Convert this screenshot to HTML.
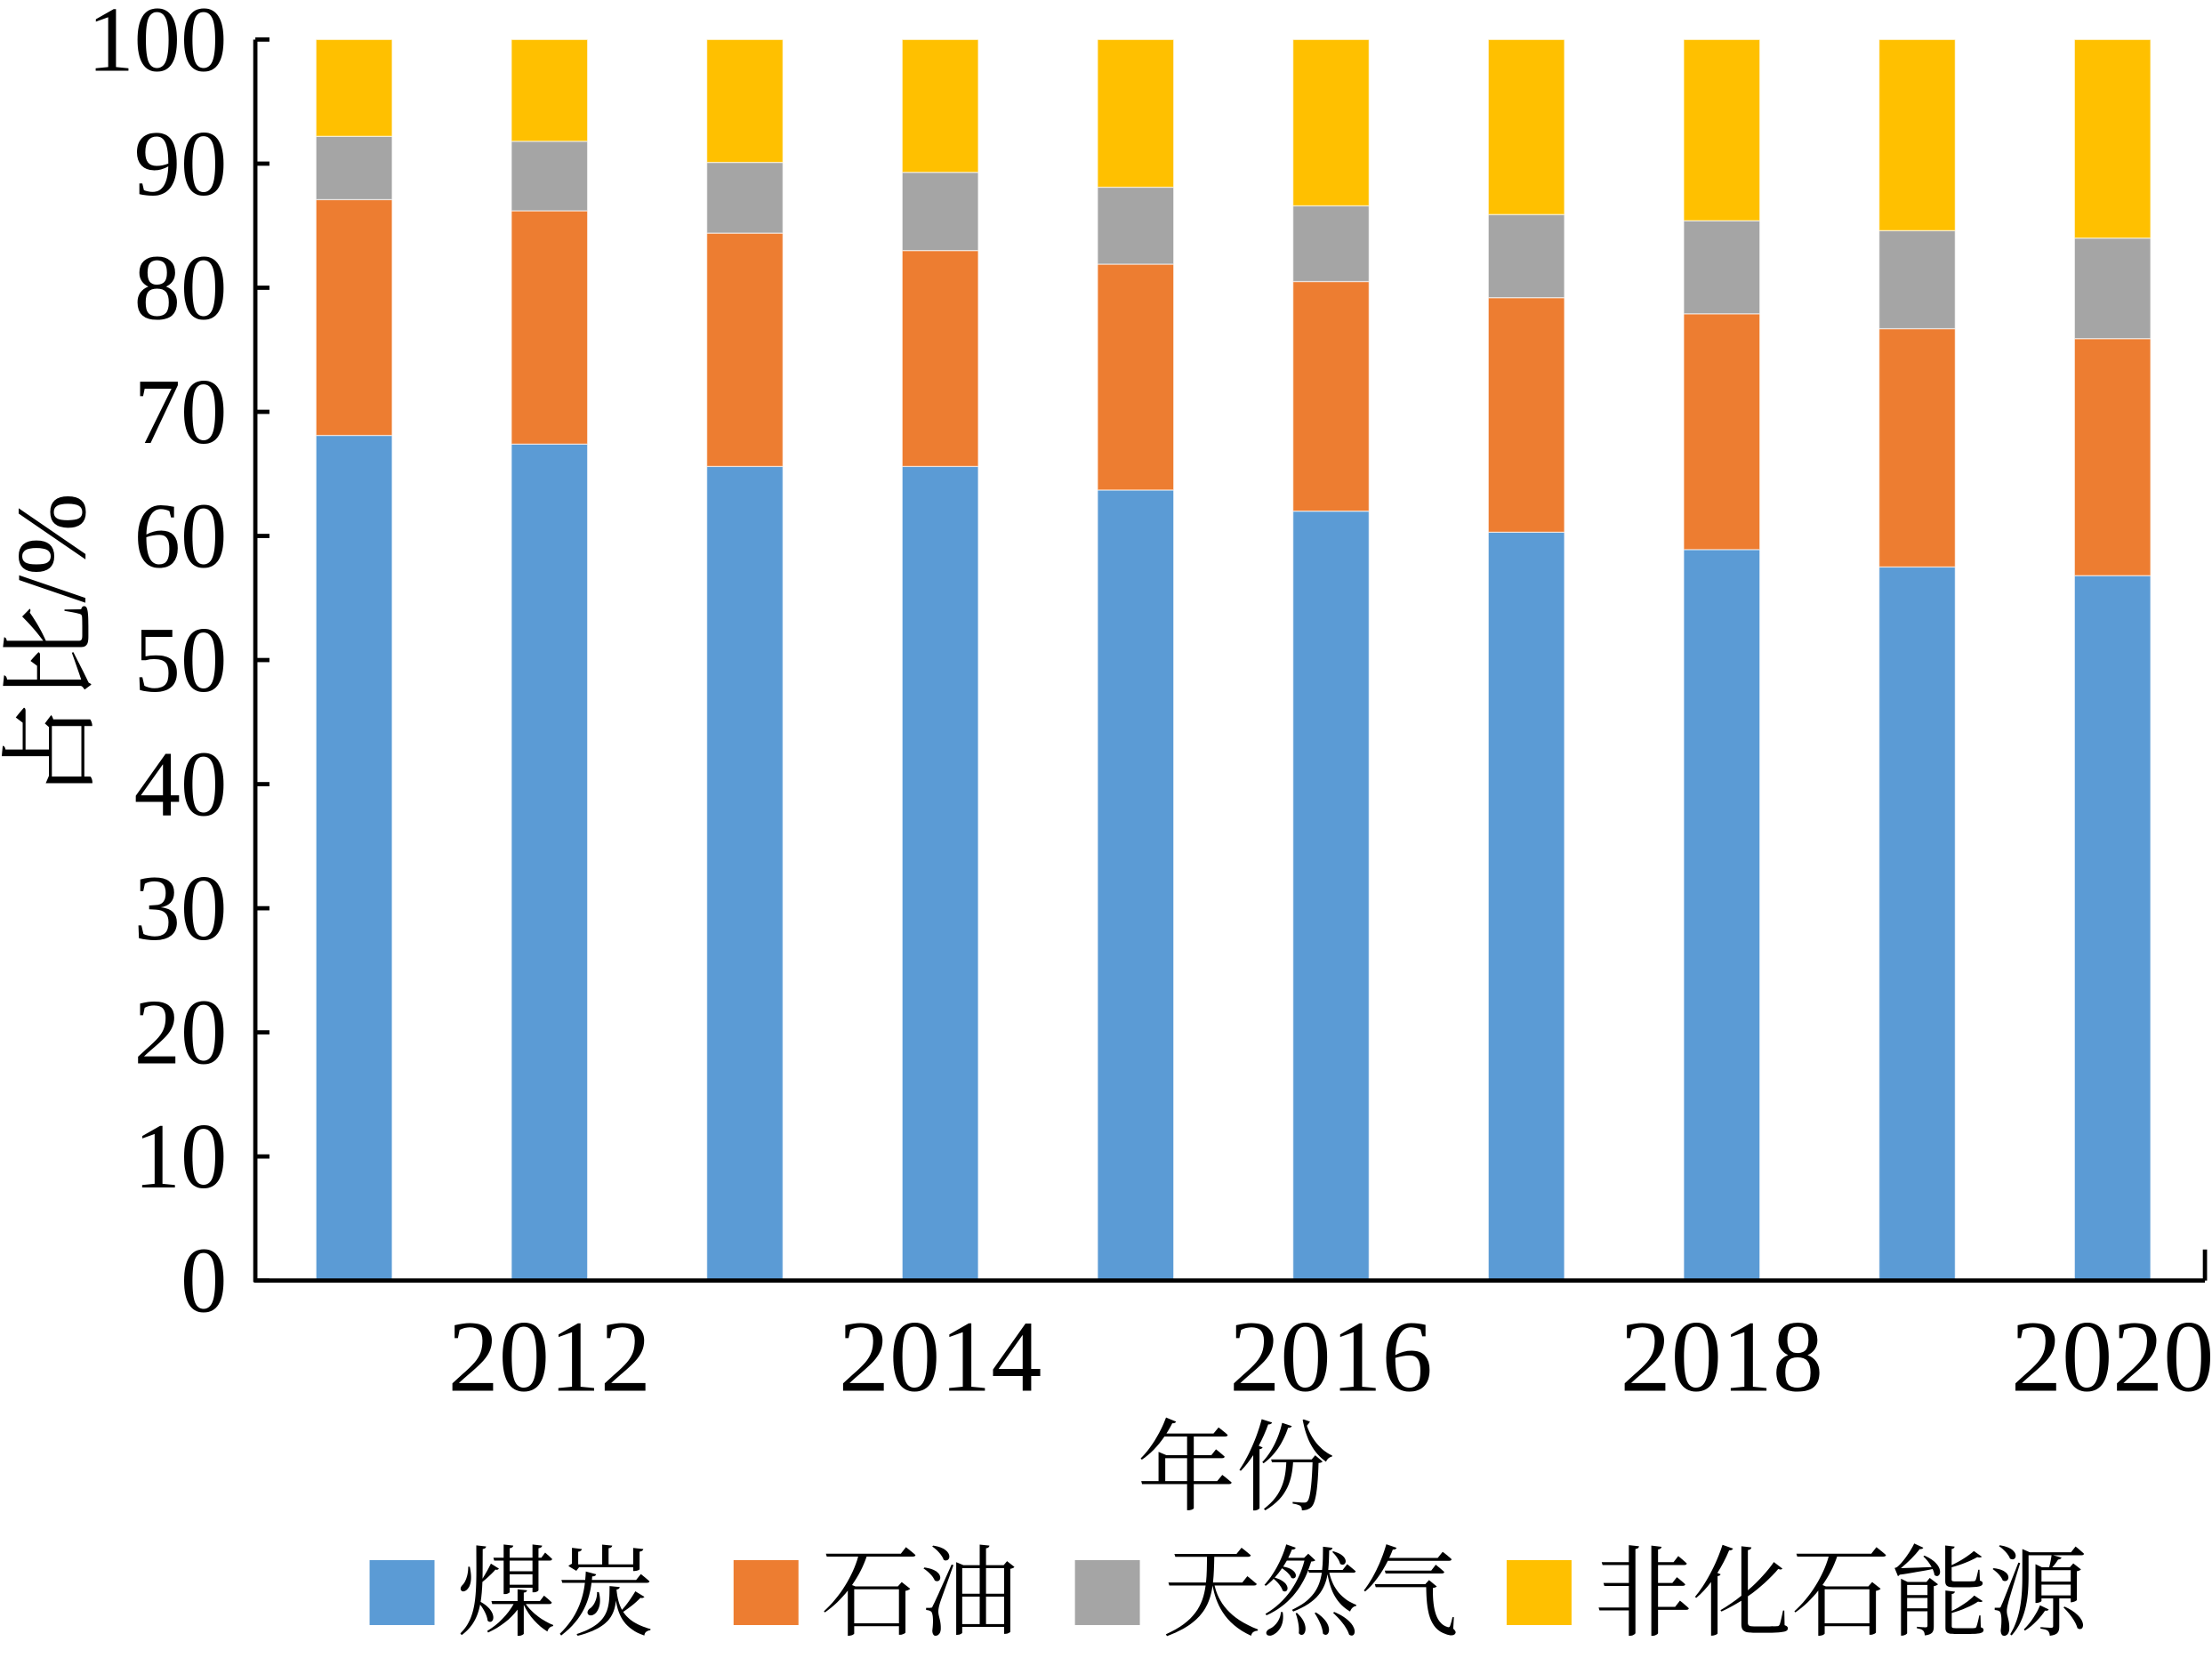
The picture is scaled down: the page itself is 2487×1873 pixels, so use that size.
<!DOCTYPE html>
<html><head><meta charset="utf-8"><style>
html,body{margin:0;padding:0;background:#fff;}
svg{display:block;}
text{font-family:"Liberation Serif","Noto Serif CJK SC",serif;fill:#000;}
</style></head><body>
<svg id="chart" width="2487" height="1873" viewBox="0 0 1568 1180" preserveAspectRatio="none" xmlns="http://www.w3.org/2000/svg">
<g id="bars"></g>
<g id="axes"></g>
<g id="legend"></g>
</svg>
<script>
const years = [2011,2012,2013,2014,2015,2016,2017,2018,2019,2020];
const coal = [68.1,67.4,65.6,65.6,63.7,62.0,60.3,58.9,57.5,56.8];
const oil = [19.0,18.8,18.8,17.4,18.2,18.5,18.9,19.0,19.2,19.1];
const gas = [5.1,5.6,5.7,6.3,6.2,6.1,6.7,7.5,7.9,8.1];
const nonFossil = [7.8,8.2,9.9,10.7,11.9,13.4,14.1,14.6,15.4,16.0];
const yTicks = [0,10,20,30,40,50,60,70,80,90,100];
const xTickYears = [2012,2014,2016,2018,2020];
const seriesNames = ['煤炭','石油','天然气','非化石能源'];

const NS='http://www.w3.org/2000/svg';
const colors=['#5B9BD5','#ED7D31','#A5A5A5','#FFC000'];
const series=[coal,oil,gas,nonFossil];
const x0=181,x1=1563,yTop=28,yBot=907;
function yScale(v){return yBot-(v/100)*(yBot-yTop);}
function xScale(yr){return 251+(yr-years[0])*138.5;}
const bw=54;
function mk(tag,attrs,parent){const e=document.createElementNS(NS,tag);for(const k in attrs)e.setAttribute(k,attrs[k]);parent.appendChild(e);return e;}
const gb=document.getElementById('bars');
years.forEach((yr,i)=>{
  let cum=0;
  series.forEach((s,j)=>{
    const v=s[i];
    const r=mk('rect',{x:xScale(yr)-bw/2,y:yScale(cum+v),width:bw,height:yScale(cum)-yScale(cum+v),fill:colors[j],stroke:'#fff','stroke-width':0.8,'stroke-opacity':0.6},gb);
    
    
    cum+=v;
  });
});
const ga=document.getElementById('axes');
let l=mk('line',{x1:x0,y1:yTop,x2:x0,y2:yBot+1,stroke:'#000','stroke-width':3},ga);


l=mk('line',{x1:x0-1,y1:yBot,x2:x1,y2:yBot,stroke:'#000','stroke-width':3},ga);


mk('line',{x1:x1,y1:yBot,x2:x1,y2:yBot-22,stroke:'#000','stroke-width':3},ga);
yTicks.forEach(v=>{
  mk('line',{x1:x0,y1:yScale(v),x2:x0+10,y2:yScale(v),stroke:'#000','stroke-width':3},ga);
  const t=mk('text',{x:161,y:yScale(v)+22,'text-anchor':'end','font-size':66},ga);
  t.textContent=v;
  
  
});
xTickYears.forEach(yr=>{
  const t=mk('text',{x:xScale(yr),y:985,'text-anchor':'middle','font-size':72},ga);
  t.textContent=yr;
  
  
});
let t=mk('text',{x:0,y:0,'text-anchor':'middle','font-size':70,transform:'translate(60,458) rotate(-90)'},ga);
t.textContent='占比/%';


t=mk('text',{x:876,y:1064,'text-anchor':'middle','font-size':70},ga);
t.textContent='年份';


const gl=document.getElementById('legend');
const lx=[262,520,762,1068];
seriesNames.forEach((n,j)=>{
  const r=mk('rect',{x:lx[j],y:1105,width:46,height:46,fill:colors[j]},gl);
  
  
  const tt=mk('text',{x:lx[j]+62,y:1153,'font-size':70},gl);
  tt.textContent=n;
  
  
});
</script>
</body></html>
